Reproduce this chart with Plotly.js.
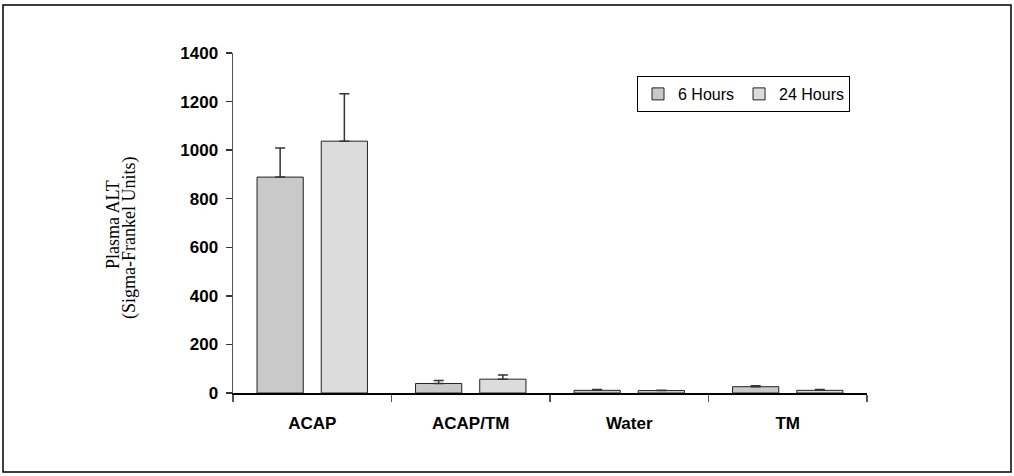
<!DOCTYPE html>
<html>
<head>
<meta charset="utf-8">
<script src="https://cdn.plot.ly/plotly-3.0.1.min.js"></script>
<style>html,body{margin:0;padding:0;background:#fff;}#chart{width:1014px;height:476px;}</style>
</head>
<body>
<div id="chart"></div>
<script>
const categories = ["ACAP", "ACAP/TM", "Water", "TM"];
const hours6 = [889, 39, 11, 26];
const hours6Err = [120, 12, 3, 4];
const hours24 = [1037, 57, 10, 11];
const hours24Err = [195, 17, 1, 3];
const seriesNames = ["6 Hours", "24 Hours"];
const yTicks = [0, 200, 400, 600, 800, 1000, 1200, 1400];
const yTitleLines = ["Plasma ALT", "(Sigma-Frankel Units)"];

const errStyle = {type: 'data', visible: true, color: '#333', thickness: 1.5, width: 5};

const traces = [
  {
    type: 'bar', name: seriesNames[0], x: categories, y: hours6,
    error_y: Object.assign({array: hours6Err, symmetric: false, arrayminus: hours6.map(() => 0)}, errStyle),
    marker: {color: '#c9c9c9', line: {color: '#222', width: 1}}
  },
  {
    type: 'bar', name: seriesNames[1], x: categories, y: hours24,
    error_y: Object.assign({array: hours24Err, symmetric: false, arrayminus: hours24.map(() => 0)}, errStyle),
    marker: {color: '#e9e9e9', line: {color: '#222', width: 1},
      pattern: {shape: '.', fgcolor: '#c4c4c4', bgcolor: '#ebebeb', size: 2, solidity: 0.4}}
  }
];

const L = 233, R = 867, T = 53, B = 393, W = 1014, H = 476;
const px = v => (v - L) / (R - L);
const py = v => (B - v) / (B - T);

const layout = {
  width: W, height: H,
  margin: {l: L, r: W - R, t: T, b: H - B, pad: 0},
  paper_bgcolor: '#fff', plot_bgcolor: '#fff',
  barmode: 'group', bargap: 0.19, bargroupgap: 0.28,
  font: {family: 'Liberation Sans, Arial, sans-serif', color: '#000'},
  showlegend: true,
  legend: {
    orientation: 'h', x: px(637), y: py(76), xanchor: 'left', yanchor: 'top',
    bordercolor: '#000', borderwidth: 1, bgcolor: '#fff',
    font: {size: 16, family: 'Liberation Sans, Arial, sans-serif'},
    itemwidth: 30, traceorder: 'normal'
  },
  xaxis: {
    type: 'category', showline: true, linecolor: '#000', linewidth: 1.5,
    ticks: 'outside', tickson: 'boundaries', ticklen: 7, tickcolor: '#555', tickwidth: 1.5,
    ticklabelstandoff: 14,
    tickfont: {size: 17, family: 'Liberation Sans, Arial, sans-serif', weight: 'bold'},
    showgrid: false, zeroline: false, fixedrange: true
  },
  yaxis: {
    range: [0, 1400], tickvals: yTicks, ticktext: yTicks.map(String),
    showline: true, linecolor: '#555', linewidth: 1.5,
    ticks: 'outside', ticklen: 6, tickcolor: '#333', tickwidth: 1.5,
    ticklabelstandoff: 4,
    tickfont: {size: 17, family: 'Liberation Sans, Arial, sans-serif', weight: 'bold'},
    showgrid: false, zeroline: false, fixedrange: true
  },
  annotations: [
    {text: yTitleLines[0], xref: 'paper', yref: 'paper', x: px(113), y: py(225),
     xanchor: 'center', yanchor: 'middle', textangle: -90, showarrow: false,
     font: {size: 18, family: 'Liberation Serif, Times New Roman, serif'}},
    {text: yTitleLines[1], xref: 'paper', yref: 'paper', x: px(129), y: py(238),
     xanchor: 'center', yanchor: 'middle', textangle: -90, showarrow: false,
     font: {size: 18, family: 'Liberation Serif, Times New Roman, serif'}}
  ],
  shapes: [
    {type: 'rect', xref: 'paper', yref: 'paper', x0: px(3), x1: px(1011), y0: py(472), y1: py(5),
     line: {color: '#000', width: 1.5}, fillcolor: 'rgba(0,0,0,0)', layer: 'below'}
  ]
};

Plotly.newPlot('chart', traces, layout, {displayModeBar: false, staticPlot: true});
</script>
</body>
</html>
